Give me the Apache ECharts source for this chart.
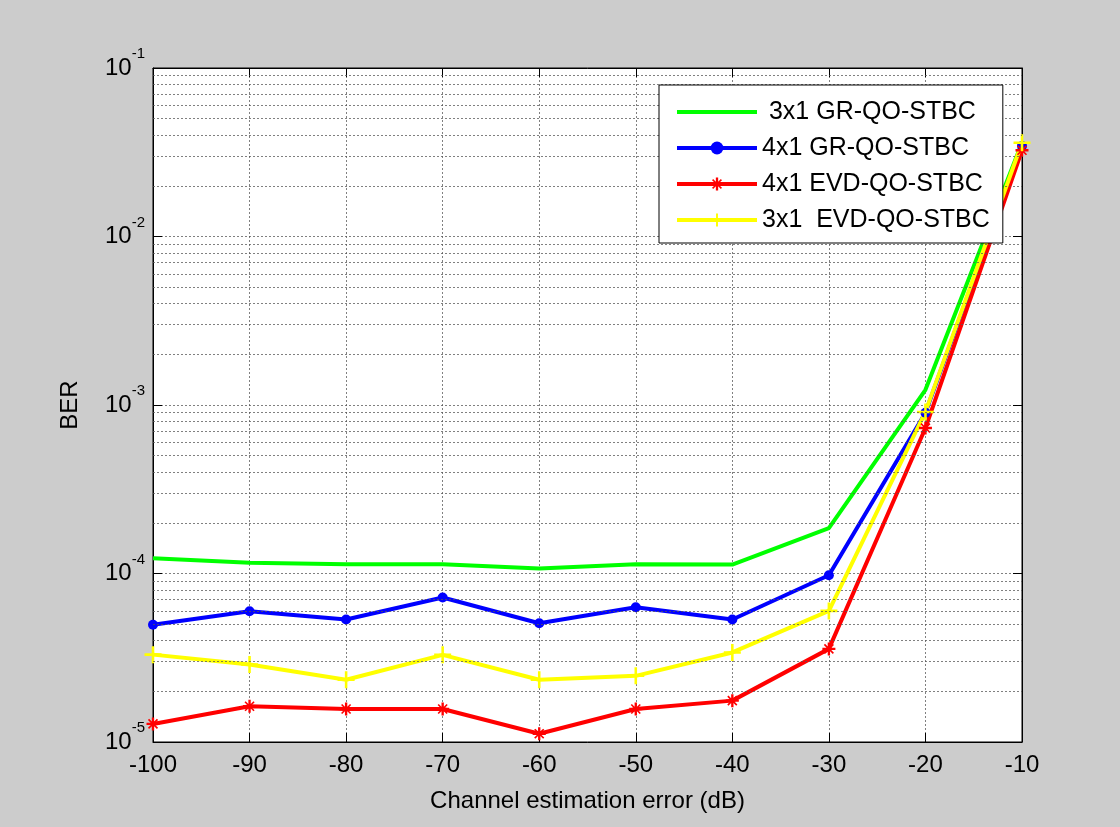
<!DOCTYPE html>
<html>
<head>
<meta charset="utf-8">
<script src="https://cdn.jsdelivr.net/npm/echarts@6/dist/echarts.min.js"></script>
<style>
html,body{margin:0;padding:0;background:#cccccc;}
#chart{width:1120px;height:827px;}
</style>
</head>
<body>
<div id="chart"></div>
<script>
// ---- data ----
var xValues = [-100, -90, -80, -70, -60, -50, -40, -30, -20, -10];
var gr3x1  = [1.23e-4, 1.16e-4, 1.135e-4, 1.135e-4, 1.07e-4, 1.135e-4, 1.13e-4, 1.86e-4, 1.23e-3, 3.6e-2];
var gr4x1  = [4.96e-5, 5.97e-5, 5.33e-5, 7.2e-5, 5.07e-5, 6.3e-5, 5.33e-5, 9.77e-5, 9.0e-4, 3.45e-2];
var evd4x1 = [1.28e-5, 1.63e-5, 1.57e-5, 1.57e-5, 1.12e-5, 1.57e-5, 1.76e-5, 3.57e-5, 7.3e-4, 3.25e-2];
var evd3x1 = [3.3e-5, 2.88e-5, 2.34e-5, 3.29e-5, 2.34e-5, 2.47e-5, 3.4e-5, 6.0e-5, 9.1e-4, 3.6e-2];
var seriesNames = [' 3x1 GR-QO-STBC', '4x1 GR-QO-STBC', '4x1 EVD-QO-STBC', '3x1  EVD-QO-STBC'];
var xTicks = [-100, -90, -80, -70, -60, -50, -40, -30, -20, -10];
var decades = [1e-5, 1e-4, 1e-3, 1e-2];
var minorMultipliers = [2, 3, 4, 5, 6, 7, 8, 9];
var minorGrid = [];
decades.forEach(function (d) {
  minorMultipliers.forEach(function (k) { minorGrid.push(+(d * k).toPrecision(3)); });
});

function pairs(ys) { return xValues.map(function (x, i) { return [x, ys[i]]; }); }

var plusPath = 'path://M8.5,0H11.5V8.5H20V11.5H11.5V20H8.5V11.5H0V8.5H8.5Z';
var starPath = 'path://M8.2,0H11.8V6.4L16,2.2L17.8,4L13.6,8.2H20V11.8H13.6L17.8,16L16,17.8L11.8,13.6V20H8.2V13.6L4,17.8L2.2,16L6.4,11.8H0V8.2H6.4L2.2,4L4,2.2L8.2,6.4Z';
var barPath = 'path://M0,0H80V4H0Z';

var gridLineStyle = {color: '#555', type: [2, 2], width: 1, opacity: 0.75};
var font = 'Liberation Sans, Arial, Helvetica, sans-serif';

var chart = echarts.init(document.getElementById('chart'), null, {renderer: 'canvas'});
chart.setOption({
  backgroundColor: '#cccccc',
  animation: false,
  grid: {left: 153, right: 98, top: 68, bottom: 85, show: true, backgroundColor: '#ffffff', borderColor: '#000', borderWidth: 1},
  legend: {
    data: [
      {name: seriesNames[0], icon: barPath, itemStyle: {color: '#00ff00'}},
      {name: seriesNames[1]},
      {name: seriesNames[2]},
      {name: seriesNames[3]}
    ],
    orient: 'vertical',
    left: 659, top: 85,
    padding: [14, 13, 10, 16],
    itemWidth: 80, itemHeight: 16, itemGap: 10,
    lineStyle: {width: 4},
    backgroundColor: '#ffffff', borderColor: '#000', borderWidth: 1, borderRadius: 0,
    textStyle: {fontFamily: font, fontSize: 25, color: '#000', lineHeight: 26},
    z: 10
  },
  xAxis: [{
    type: 'value', min: -100, max: -10, interval: 10,
    name: 'Channel estimation error (dB)', nameLocation: 'middle', nameGap: 47,
    nameTextStyle: {fontFamily: font, fontSize: 24, color: '#000'},
    axisLine: {show: true, onZero: false, lineStyle: {color: '#000', width: 1}},
    axisTick: {show: true, inside: true, length: 9, lineStyle: {color: '#000'}},
    axisLabel: {fontFamily: font, fontSize: 24, color: '#000', margin: 11, customValues: xTicks},
    splitLine: {show: true, lineStyle: gridLineStyle}
  }, {
    type: 'value', min: -100, max: -10, interval: 10, position: 'top',
    axisLine: {show: true, onZero: false, lineStyle: {color: '#000', width: 1}},
    axisTick: {show: true, inside: true, length: 9, lineStyle: {color: '#000'}},
    axisLabel: {show: false}, splitLine: {show: false}
  }],
  yAxis: [{
    type: 'log', logBase: 10, min: 1e-5, max: 1e-1,
    name: 'BER', nameLocation: 'middle', nameGap: 71, nameRotate: 90,
    nameTextStyle: {fontFamily: font, fontSize: 24, color: '#000'},
    axisLine: {show: true, onZero: false, lineStyle: {color: '#000', width: 1}},
    axisTick: {show: true, inside: true, length: 9, lineStyle: {color: '#000'}},
    axisLabel: {
      margin: 8,
      formatter: function (v) {
        var e = Math.round(Math.log10(v));
        return '{b|10}{s|' + e + '}';
      },
      rich: {
        b: {fontFamily: font, fontSize: 24, color: '#000', lineHeight: 24},
        s: {fontFamily: font, fontSize: 15, color: '#000', lineHeight: 15, padding: [0, 0, 28, 0]}
      }
    },
    splitLine: {show: true, lineStyle: gridLineStyle}
  }, {
    type: 'log', logBase: 10, min: 1e-5, max: 1e-1, position: 'right',
    axisLine: {show: true, onZero: false, lineStyle: {color: '#000', width: 1}},
    axisTick: {show: true, inside: true, length: 9, lineStyle: {color: '#000'}},
    axisLabel: {show: false}, splitLine: {show: false}
  }],
  series: [
    {
      name: 'minor-grid', type: 'line', data: pairs(gr3x1), symbol: 'none', silent: true, z: 1,
      lineStyle: {opacity: 0}, itemStyle: {opacity: 0}, tooltip: {show: false},
      markLine: {
        silent: true, symbol: ['none', 'none'], label: {show: false},
        lineStyle: gridLineStyle,
        animation: false,
        data: minorGrid.map(function (v) {
          return [{coord: [xTicks[0], v]}, {coord: [xTicks[xTicks.length - 1], v]}];
        })
      }
    },
    {
      name: seriesNames[0], type: 'line', data: pairs(gr3x1), symbol: 'none',
      lineStyle: {color: '#00ff00', width: 4}, itemStyle: {color: '#00ff00'}, z: 3
    },
    {
      name: seriesNames[1], type: 'line', data: pairs(gr4x1), symbol: 'circle', symbolSize: 10,
      showAllSymbol: true,
      lineStyle: {color: '#0000ff', width: 4}, itemStyle: {color: '#0000ff'}, z: 3
    },
    {
      name: seriesNames[2], type: 'line', data: pairs(evd4x1), symbol: starPath, symbolSize: 13,
      showAllSymbol: true,
      lineStyle: {color: '#ff0000', width: 4}, itemStyle: {color: '#ff0000'}, z: 3
    },
    {
      name: seriesNames[3], type: 'line', data: pairs(evd3x1), symbol: plusPath, symbolSize: 17,
      showAllSymbol: true,
      lineStyle: {color: '#ffff00', width: 4}, itemStyle: {color: '#ffff00'}, z: 3
    }
  ]
});
</script>
</body>
</html>
